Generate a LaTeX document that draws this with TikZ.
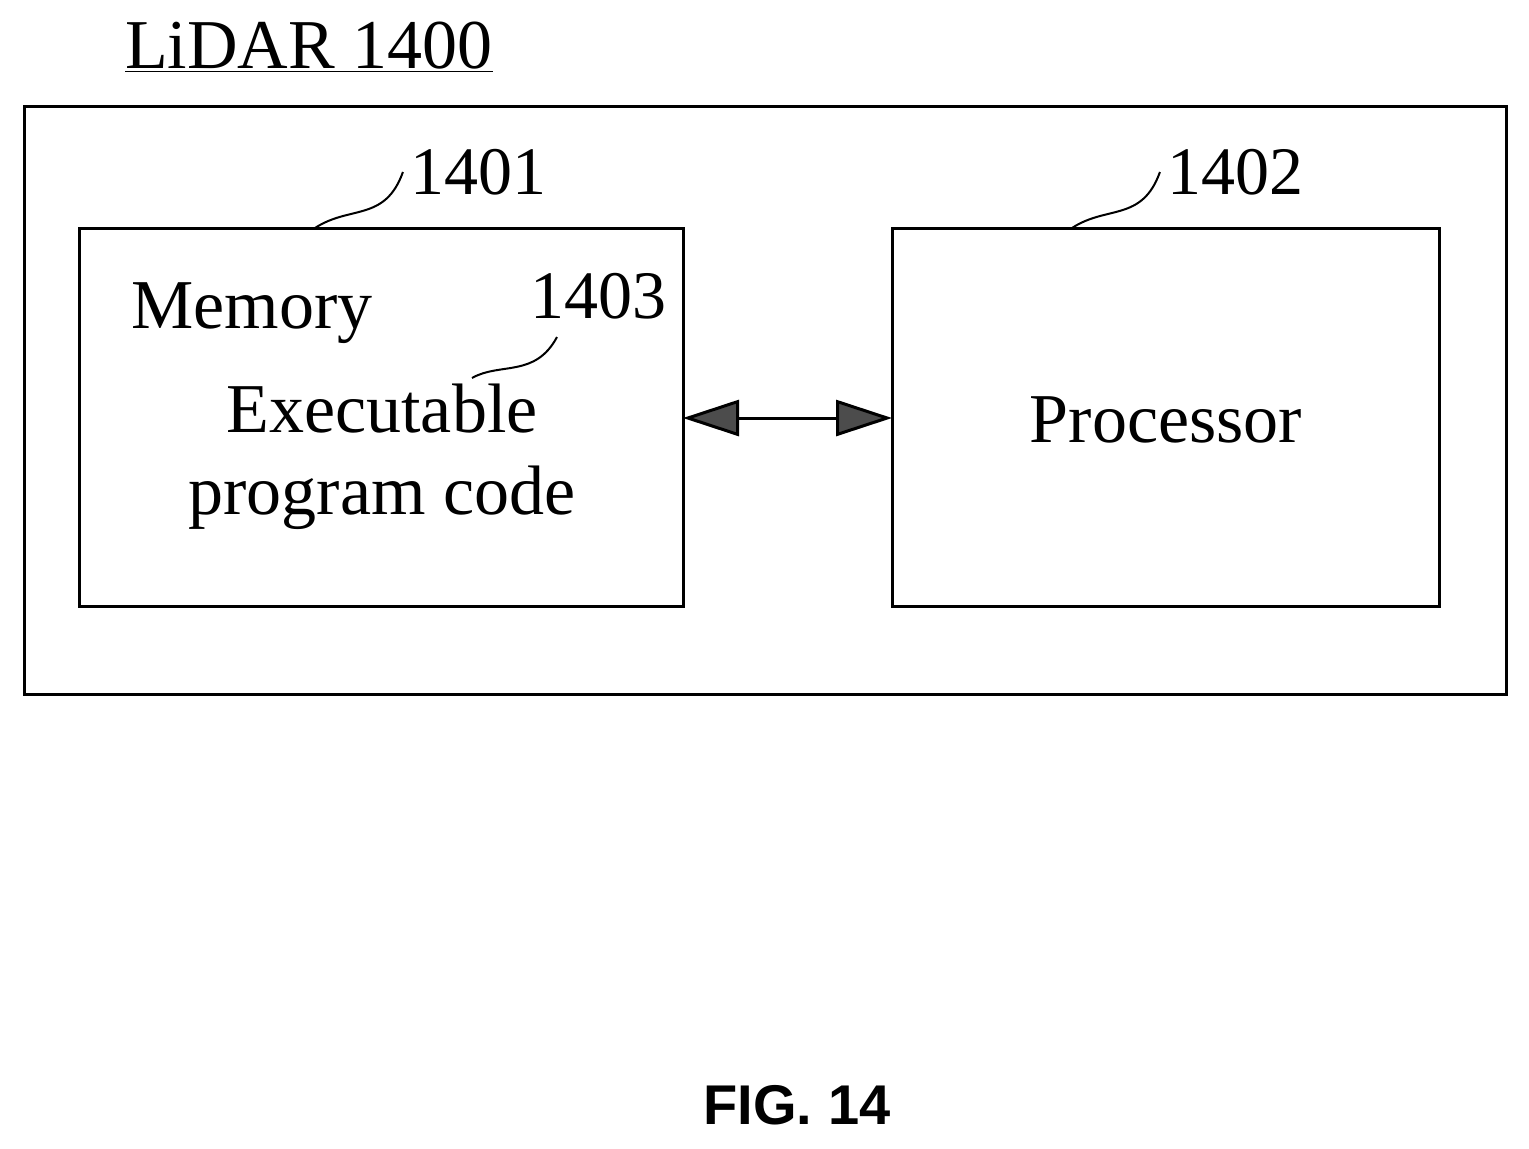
\documentclass[tikz,border=0pt]{standalone}
\usepackage{fontspec}
\setmainfont{Liberation Serif}
\setsansfont{Liberation Sans}
\usetikzlibrary{arrows.meta}
\begin{document}
\begin{tikzpicture}[x=0.5pt,y=-0.5pt,
  box/.style={draw,line width=1.5pt},
  lbl/.style={font=\fontsize{34}{38}\selectfont},
  txt/.style={font=\fontsize{35}{41}\selectfont,align=center},
  lead/.style={line width=1pt}]
\useasboundingbox (0,0) rectangle (1529,1148);
\node[font=\fontsize{35}{40}\selectfont,anchor=base west] (title) at (118,68) {\underline{LiDAR 1400}};
\draw[box] (24,106) rectangle (1506,694);
\draw[box] (79,228) rectangle (683,606);
\draw[box] (892,228) rectangle (1439,606);
\coordinate (memR) at (683,418);
\coordinate (procL) at (892,418);
\node[lbl] (n1401) at (478,172) {1401};
\node[lbl] (n1402) at (1235,172) {1402};
\node[lbl] (n1403) at (598,296) {1403};
\coordinate (c1) at (315,228);
\coordinate (c2) at (1072,228);
\coordinate (c3) at (472,378);
\draw[lead] (c1) .. controls (350,205) and (385,222) .. (n1401.west);
\draw[lead] (c2) .. controls (1107,205) and (1142,222) .. (n1402.west);
\draw[lead] (c3) .. controls (500,362) and (535,378) .. (557,337);
\node[txt] (memt) at (252,313) {Memory};
\node[txt] (exe) at (382,457) {Executable\\program code};
\node[txt] (proc) at (1166,420) {Processor};
\draw[line width=1.5pt,{Triangle[length=28pt,width=18pt,fill=gray!60!black]}-{Triangle[length=28pt,width=18pt,fill=gray!60!black]}] (memR) -- (procL);
\node[font=\sffamily\bfseries\fontsize{28}{30}\selectfont] (fig) at (797,1105) {FIG. 14};
\end{tikzpicture}
\end{document}
